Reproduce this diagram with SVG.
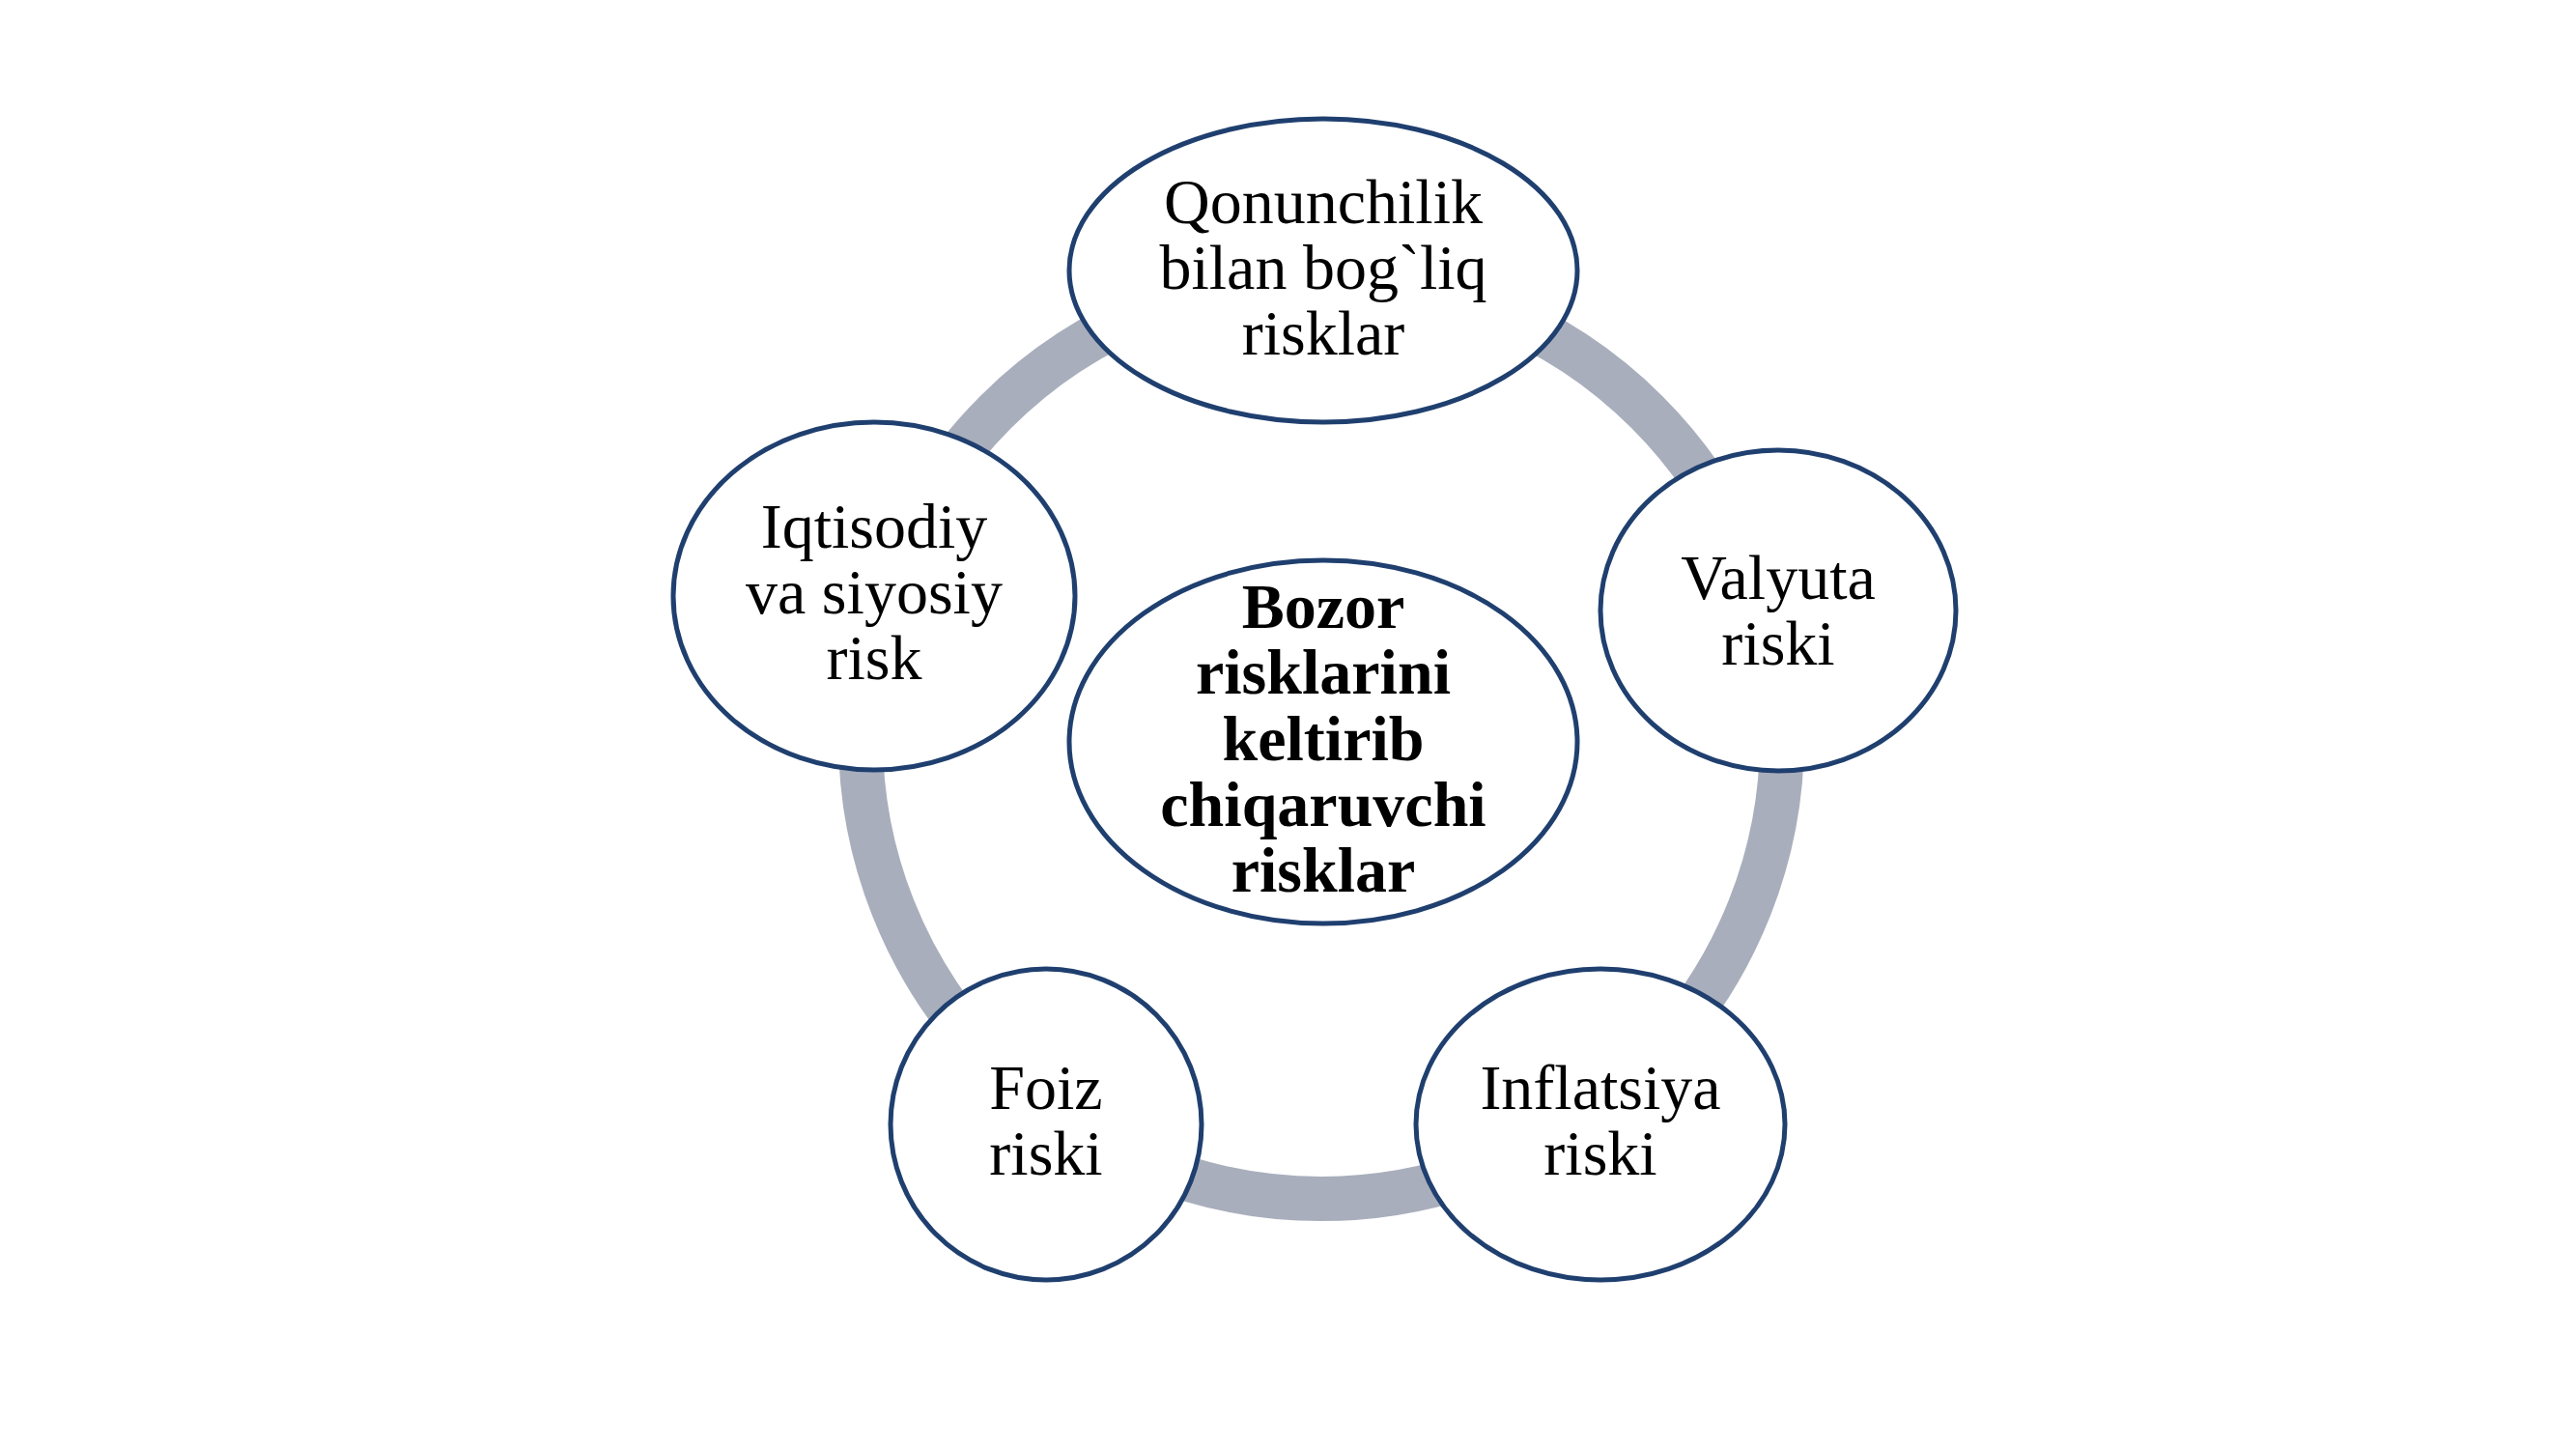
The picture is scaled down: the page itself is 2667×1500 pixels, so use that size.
<svg xmlns="http://www.w3.org/2000/svg" width="2667" height="1500" viewBox="0 0 2667 1500">
<style>
.node{fill:#FFFFFF;stroke:#1F3F6F;stroke-width:5}
.t{font-family:"Liberation Serif","Times New Roman",serif;font-size:66px;fill:#000000;text-anchor:middle}
.b{font-weight:bold}
.ring{fill:none;stroke:#A9AEBC;stroke-width:46}
</style>
<rect width="2667" height="1500" fill="#FFFFFF"/>
<g id="connectors">
<circle class="ring" cx="1368" cy="764" r="477"/>
</g>
<g id="node-top">
<ellipse class="node" cx="1370" cy="280" rx="263" ry="157"/>
<text class="t" x="1370" y="231">Qonunchilik</text>
<text class="t" x="1370" y="299">bilan bog`liq</text>
<text class="t" x="1370" y="367">risklar</text>
</g>
<g id="node-left">
<ellipse class="node" cx="905" cy="617" rx="208" ry="180"/>
<text class="t" x="905" y="567">Iqtisodiy</text>
<text class="t" x="905" y="635">va siyosiy</text>
<text class="t" x="905" y="703">risk</text>
</g>
<g id="node-right">
<ellipse class="node" cx="1841" cy="632" rx="184" ry="166"/>
<text class="t" x="1841" y="620">Valyuta</text>
<text class="t" x="1841" y="688">riski</text>
</g>
<g id="node-bottom-left">
<ellipse class="node" cx="1083" cy="1164" rx="161" ry="161"/>
<text class="t" x="1083" y="1148">Foiz</text>
<text class="t" x="1083" y="1216">riski</text>
</g>
<g id="node-bottom-right">
<ellipse class="node" cx="1657" cy="1164" rx="191" ry="161"/>
<text class="t" x="1657" y="1148">Inflatsiya</text>
<text class="t" x="1657" y="1216">riski</text>
</g>
<g id="node-center">
<ellipse class="node" cx="1370" cy="768" rx="263" ry="188"/>
<text class="t b" x="1370" y="650">Bozor</text>
<text class="t b" x="1370" y="718">risklarini</text>
<text class="t b" x="1370" y="787">keltirib</text>
<text class="t b" x="1370" y="855">chiqaruvchi</text>
<text class="t b" x="1370" y="923">risklar</text>
</g>
</svg>
